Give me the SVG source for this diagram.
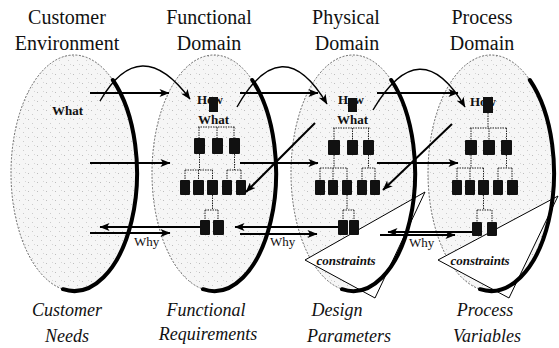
<svg xmlns="http://www.w3.org/2000/svg" width="559" height="348" viewBox="0 0 559 348">
<defs>
<pattern id="speck" width="9" height="9" patternUnits="userSpaceOnUse">
<rect width="9" height="9" fill="#f6f6f6"/>
<rect x="1" y="2" width="1" height="1" fill="#bdbdbd"/>
<rect x="5" y="6" width="1" height="1" fill="#cccccc"/>
<rect x="7" y="1" width="1" height="1" fill="#d6d6d6"/>
</pattern>
<marker id="ah" viewBox="0 0 10 8" refX="9.5" refY="4" markerWidth="11" markerHeight="8" markerUnits="userSpaceOnUse" orient="auto">
<path d="M0,0 L10,4 L0,8 L2.5,4 Z" fill="#000"/>
</marker>
</defs>
<style>
.dom{fill:url(#speck);stroke:#444;stroke-width:0.8;stroke-dasharray:2 1.5}
.thick{fill:none;stroke:#000;stroke-width:4;stroke-linecap:round}
.ttl{font-family:"Liberation Serif",serif;font-size:20px;fill:#111;text-anchor:middle}
.sub{font-family:"Liberation Serif",serif;font-size:18px;font-style:italic;fill:#111;text-anchor:middle}
.lbl{font-family:"Liberation Serif",serif;font-size:13px;font-weight:bold;fill:#111}
.why{font-family:"Liberation Serif",serif;font-size:13px;fill:#111}
.con{font-family:"Liberation Serif",serif;font-size:13px;font-style:italic;font-weight:bold;fill:#111;text-anchor:middle}
.box{fill:#111}
.tree{fill:none;stroke:#222;stroke-width:1;stroke-dasharray:1.5 1}
.arr{fill:none;stroke:#000;stroke-width:2;marker-end:url(#ah)}
.carr{fill:none;stroke:#000;stroke-width:1.4;marker-end:url(#ah)}
.tri{fill:#fff;stroke:#000;stroke-width:1}
</style>

<g id="customer-environment">
<ellipse class="dom" cx="74" cy="173" rx="63" ry="118"/>
<path class="thick" d="M112.8,80 A63,118 0 0 1 63,289.2"/>
<text class="ttl" x="67" y="24">Customer</text>
<text class="ttl" x="67" y="50">Environment</text>
<text class="lbl" x="52" y="115">What</text>
<text class="sub" x="67" y="316">Customer</text>
<text class="sub" x="67" y="342">Needs</text>
</g>

<g id="functional-domain">
<ellipse class="dom" cx="214" cy="173" rx="62" ry="118"/>
<path class="thick" d="M252.2,80 A62,118 0 0 1 203,289.2"/>
<text class="ttl" x="209" y="24">Functional</text>
<text class="ttl" x="209" y="50">Domain</text>
<text class="lbl" x="197" y="104">How</text>
<rect class="box" x="209" y="97" width="9" height="15"/>
<text class="lbl" x="198" y="124">What</text>
<path class="tree" d="M198,127 H235 M199,127 V138 M217,127 V138 M234,127 V138"/>
<rect class="box" x="194" y="138" width="11" height="16" rx="1"/>
<rect class="box" x="212" y="138" width="11" height="16" rx="1"/>
<rect class="box" x="229" y="138" width="11" height="16" rx="1"/>
<path class="tree" d="M199.5,154 V170 M185,170 H213 M185,170 V180 M198.5,170 V180 M212.5,170 V180 M234.5,154 V170 M227,170 H241 M227,170 V180 M241,170 V180"/>
<rect class="box" x="180" y="180" width="10" height="15" rx="1"/>
<rect class="box" x="193" y="180" width="11" height="15" rx="1"/>
<rect class="box" x="207" y="180" width="11" height="15" rx="1"/>
<rect class="box" x="222" y="180" width="10" height="15" rx="1"/>
<rect class="box" x="236" y="180" width="10" height="15" rx="1"/>
<path class="tree" d="M212.5,195 V210 M205,210 H218 M205,210 V220 M218,210 V220"/>
<rect class="box" x="200" y="220" width="10" height="15" rx="1"/>
<rect class="box" x="213" y="220" width="11" height="15" rx="1"/>
<text class="sub" x="206" y="316">Functional</text>
<text class="sub" x="208" y="340">Requirements</text>
</g>

<g id="physical-domain">
<ellipse class="dom" cx="353" cy="173" rx="62" ry="118"/>
<polygon class="tri" points="305,260 425,192 375,298"/>
<path class="thick" d="M391.2,80 A62,118 0 0 1 342,289.2"/>
<text class="ttl" x="346" y="24">Physical</text>
<text class="ttl" x="347" y="50">Domain</text>
<text class="lbl" x="338" y="104">How</text>
<rect class="box" x="348" y="98" width="9" height="14"/>
<text class="lbl" x="337" y="124">What</text>
<path class="tree" d="M333,128 H370 M334,128 V140 M352.5,128 V140 M368.5,128 V140"/>
<rect class="box" x="328" y="140" width="12" height="15" rx="1"/>
<rect class="box" x="347" y="140" width="11" height="15" rx="1"/>
<rect class="box" x="363" y="140" width="11" height="15" rx="1"/>
<path class="tree" d="M334,155 V168 M320,168 H347 M320,168 V180 M333,168 V180 M347,168 V180 M368.5,155 V168 M362,168 H375 M362,168 V180 M375,168 V180"/>
<rect class="box" x="315" y="180" width="10" height="15" rx="1"/>
<rect class="box" x="328" y="180" width="10" height="15" rx="1"/>
<rect class="box" x="342" y="180" width="10" height="15" rx="1"/>
<rect class="box" x="357" y="180" width="10" height="15" rx="1"/>
<rect class="box" x="370" y="180" width="10" height="15" rx="1"/>
<path class="tree" d="M347,195 V210 M343,210 H354 M343,210 V220 M354,210 V220"/>
<rect class="box" x="338" y="220" width="10" height="15" rx="1"/>
<rect class="box" x="349" y="220" width="10" height="15" rx="1"/>
<text class="con" x="346" y="265">constraints</text>
<text class="sub" x="337" y="316">Design</text>
<text class="sub" x="349" y="342">Parameters</text>
</g>

<g id="process-domain">
<ellipse class="dom" cx="491" cy="173" rx="63" ry="118"/>
<polygon class="tri" points="438,260 558,196 509,298"/>
<path class="thick" d="M529.8,80 A63,118 0 0 1 480,289.2"/>
<text class="ttl" x="482" y="24">Process</text>
<text class="ttl" x="482" y="50">Domain</text>
<text class="lbl" x="470" y="106">How</text>
<rect class="box" x="483" y="97" width="10" height="16"/>
<path class="tree" d="M488,113 V128 M470,128 H507 M471,128 V140 M489,128 V140 M506.5,128 V140"/>
<rect class="box" x="465" y="140" width="12" height="15" rx="1"/>
<rect class="box" x="483" y="140" width="12" height="15" rx="1"/>
<rect class="box" x="501" y="140" width="11" height="15" rx="1"/>
<path class="tree" d="M471,155 V168 M457,168 H484 M457,168 V180 M470,168 V180 M483.5,168 V180 M506.5,155 V168 M498,168 H512 M498,168 V180 M512,168 V180"/>
<rect class="box" x="452" y="180" width="10" height="15" rx="1"/>
<rect class="box" x="465" y="180" width="10" height="15" rx="1"/>
<rect class="box" x="478" y="180" width="11" height="15" rx="1"/>
<rect class="box" x="493" y="180" width="10" height="15" rx="1"/>
<rect class="box" x="507" y="180" width="11" height="15" rx="1"/>
<path class="tree" d="M483.5,195 V210 M477,210 H492 M477,210 V222 M492,210 V222"/>
<rect class="box" x="472" y="222" width="10" height="14" rx="1"/>
<rect class="box" x="487" y="222" width="10" height="14" rx="1"/>
<text class="con" x="480" y="265">constraints</text>
<text class="sub" x="485" y="316">Process</text>
<text class="sub" x="487" y="342">Variables</text>
</g>

<g id="connectors">
<path class="arr" d="M90,93 H169"/>
<path class="arr" d="M240,93 H318"/>
<path class="arr" d="M377,93 H458"/>
<path class="carr" d="M100,101 Q140,32 190,99"/>
<path class="carr" d="M237,107 Q282,28 327,104"/>
<path class="carr" d="M373,110 Q420,30 465,107"/>
<path class="arr" d="M90,163 H170"/>
<path class="arr" d="M240,163 H318"/>
<path class="arr" d="M377,163 H458"/>
<path class="arr" d="M315,123 L246,192"/>
<path class="arr" d="M452,124 L383,190"/>
<path class="arr" d="M200,227 H100"/>
<path class="arr" d="M90,233 H170"/>
<path class="arr" d="M338,227 H235"/>
<path class="arr" d="M240,234 H317"/>
<path class="arr" d="M472,232 H388"/>
<path class="arr" d="M380,235 H455"/>
<text class="why" x="134" y="246">Why</text>
<text class="why" x="270" y="246">Why</text>
<text class="why" x="409" y="247">Why</text>
</g>
</svg>
